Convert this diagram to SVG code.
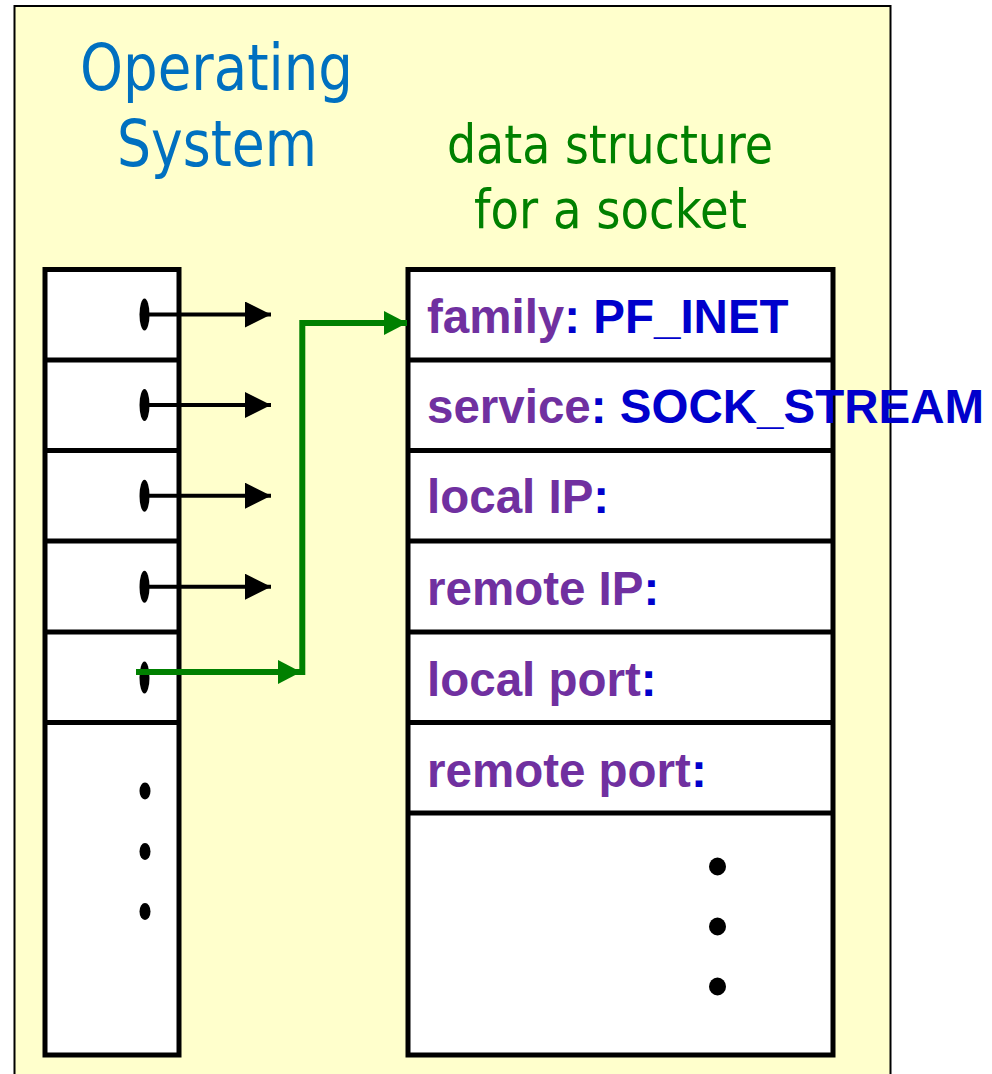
<svg xmlns="http://www.w3.org/2000/svg" width="992" height="1074" viewBox="0 0 992 1074">
  <style>
    .panel { fill: #FFFFCC; stroke: #000; stroke-width: 2; }
    .tbl { fill: #FFFFFF; stroke: #000; stroke-width: 5; }
    .div { stroke: #000; stroke-width: 5; }
    .title { font-family: "DejaVu Sans", Verdana, sans-serif; fill: #0070C0; font-size: 64px; }
    .sub { font-family: "DejaVu Sans", Verdana, sans-serif; fill: #008000; font-size: 54px; }
    .fld { font-family: "Liberation Sans", Arial, sans-serif; font-weight: bold; font-size: 47.5px; fill: #7030A0; }
    .val { fill: #0000CC; }
    .ptr { fill: #000; }
    .blk { stroke: #000; stroke-width: 4; fill: none; }
    .grn { stroke: #008000; stroke-width: 6; fill: none; }
  </style>
  <defs>
    <marker id="ahBlack" markerUnits="userSpaceOnUse" markerWidth="27" markerHeight="27" refX="26" refY="13" orient="auto">
      <polygon points="0,0 26,13 0,26" fill="#000"/>
    </marker>
    <marker id="ahGreen" markerUnits="userSpaceOnUse" markerWidth="24" markerHeight="24" refX="23" refY="12" orient="auto">
      <polygon points="0,0 23,12 0,24" fill="#008000"/>
    </marker>
  </defs>

  <rect x="0" y="0" width="992" height="1074" fill="#FFFFFF"/>
  <g id="panel">
    <rect class="panel" x="14.5" y="6" width="876" height="1100"/>
  </g>

  <g id="title-os">
    <text class="title" x="80" y="90" textLength="273" lengthAdjust="spacingAndGlyphs">Operating</text>
    <text class="title" x="117" y="166" textLength="200" lengthAdjust="spacingAndGlyphs">System</text>
  </g>

  <g id="title-socket">
    <text class="sub" x="447" y="163" textLength="326" lengthAdjust="spacingAndGlyphs">data structure</text>
    <text class="sub" x="474" y="227.5" textLength="273" lengthAdjust="spacingAndGlyphs">for a socket</text>
  </g>

  <g id="os-table">
    <rect class="tbl" x="45" y="269.5" width="134" height="785.5"/>
    <line class="div" x1="45" y1="360" x2="179" y2="360"/>
    <line class="div" x1="45" y1="450.5" x2="179" y2="450.5"/>
    <line class="div" x1="45" y1="541" x2="179" y2="541"/>
    <line class="div" x1="45" y1="632" x2="179" y2="632"/>
    <line class="div" x1="45" y1="722.5" x2="179" y2="722.5"/>
    <g id="slot-1"><ellipse class="ptr" cx="144.5" cy="314.5" rx="5" ry="16"/></g>
    <g id="slot-2"><ellipse class="ptr" cx="144.5" cy="405" rx="5" ry="16"/></g>
    <g id="slot-3"><ellipse class="ptr" cx="144.5" cy="495.7" rx="5" ry="16"/></g>
    <g id="slot-4"><ellipse class="ptr" cx="144.5" cy="586.7" rx="5" ry="16"/></g>
    <g id="slot-5"><ellipse class="ptr" cx="144.5" cy="677.5" rx="5" ry="16"/></g>
    <g id="slot-more">
      <ellipse class="ptr" cx="145" cy="791" rx="5.5" ry="8.5"/>
      <ellipse class="ptr" cx="145" cy="851.5" rx="5.5" ry="8.5"/>
      <ellipse class="ptr" cx="145" cy="911.5" rx="5.5" ry="8.5"/>
    </g>
  </g>

  <g id="socket-table">
    <rect class="tbl" x="408" y="269.5" width="425" height="785.5"/>
    <line class="div" x1="408" y1="360" x2="833" y2="360"/>
    <line class="div" x1="408" y1="450.5" x2="833" y2="450.5"/>
    <line class="div" x1="408" y1="541" x2="833" y2="541"/>
    <line class="div" x1="408" y1="632" x2="833" y2="632"/>
    <line class="div" x1="408" y1="722.5" x2="833" y2="722.5"/>
    <line class="div" x1="408" y1="813" x2="833" y2="813"/>
    <g id="field-family"><text class="fld" x="427" y="332.7">family<tspan class="val">: PF_INET</tspan></text></g>
    <g id="field-service"><text class="fld" x="427" y="423">service<tspan class="val">: SOCK_STREAM</tspan></text></g>
    <g id="field-local-ip"><text class="fld" x="427" y="513.3">local IP<tspan class="val">:</tspan></text></g>
    <g id="field-remote-ip"><text class="fld" x="427" y="604.5">remote IP<tspan class="val">:</tspan></text></g>
    <g id="field-local-port"><text class="fld" x="427" y="695.5">local port<tspan class="val">:</tspan></text></g>
    <g id="field-remote-port"><text class="fld" x="427" y="786.5">remote port<tspan class="val">:</tspan></text></g>
    <g id="field-more">
      <ellipse class="ptr" cx="717.5" cy="866.5" rx="8.5" ry="9"/>
      <ellipse class="ptr" cx="717.5" cy="926.5" rx="8.5" ry="9"/>
      <ellipse class="ptr" cx="717.5" cy="986.5" rx="8.5" ry="9"/>
    </g>
  </g>

  <g id="connectors">
    <line class="blk" x1="146" y1="314.5" x2="271" y2="314.5" marker-end="url(#ahBlack)"/>
    <line class="blk" x1="146" y1="405" x2="271" y2="405" marker-end="url(#ahBlack)"/>
    <line class="blk" x1="146" y1="495.7" x2="271" y2="495.7" marker-end="url(#ahBlack)"/>
    <line class="blk" x1="146" y1="586.7" x2="271" y2="586.7" marker-end="url(#ahBlack)"/>
    <line class="grn" x1="136" y1="672" x2="301" y2="672" marker-end="url(#ahGreen)"/>
    <path class="grn" d="M302.3,675 V323 H407" marker-end="url(#ahGreen)"/>
  </g>
</svg>
